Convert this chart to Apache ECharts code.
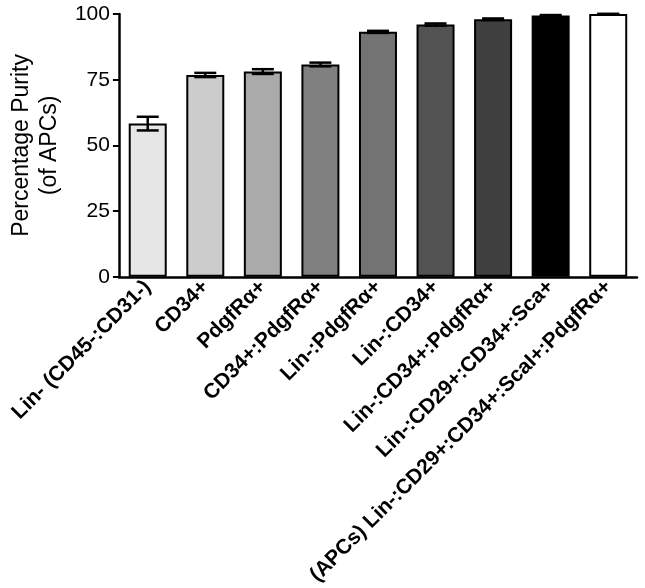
<!DOCTYPE html>
<html>
<head>
<meta charset="utf-8">
<script src="https://cdn.jsdelivr.net/npm/echarts@6/dist/echarts.min.js"></script>
<style>html,body{margin:0;padding:0;background:#fff}#c{width:645px;height:588px}</style>
</head>
<body>
<div id="c"></div>
<script>
var categories = ['Lin- (CD45-:CD31-)', 'CD34+', 'PdgfRα+', 'CD34+:PdgfRα+', 'Lin-:PdgfRα+', 'Lin-:CD34+', 'Lin-:CD34+:PdgfRα+', 'Lin-:CD29+:CD34+:Sca+', '(APCs) Lin-:CD29+:CD34+:ScaI+:PdgfRα+'];
var purity = [58.3, 76.8, 78.1, 80.8, 93.2, 96.0, 98.0, 99.4, 100];
var sem = [2.6, 0.8, 0.9, 0.7, 0.4, 0.4, 0.3, 0.2, 0];
var barColors = ['#e6e6e6', '#cccccc', '#aaaaaa', '#808080', '#737373', '#525252', '#404040', '#000000', '#ffffff'];
var yTicks = [0, 25, 50, 75, 100];

var font = 'Arial, "Liberation Sans", sans-serif';
var chart = echarts.init(document.getElementById('c'));
chart.setOption({
  animation: false,
  backgroundColor: '#fff',
  grid: {left: 112, right: 8, top: 14, bottom: 308},
  xAxis: {
    type: 'category',
    data: categories,
    axisLine: {lineStyle: {color: '#000', width: 2.5}},
    axisTick: {show: false},
    axisLabel: {rotate: 45, interval: 0, fontFamily: font, fontWeight: 'bold', fontSize: 21, color: '#000', margin: 7}
  },
  yAxis: {
    type: 'value',
    min: yTicks[0], max: yTicks[yTicks.length - 1], interval: 25,
    name: 'Percentage Purity\n(of APCs)',
    nameLocation: 'middle',
    nameRotate: 90,
    nameGap: 50,
    nameTextStyle: {fontFamily: font, fontSize: 23, color: '#000', lineHeight: 28},
    axisLine: {show: true, lineStyle: {color: '#000', width: 2.5}},
    axisTick: {show: true, length: 6, lineStyle: {color: '#000', width: 2}},
    axisLabel: {fontFamily: font, fontSize: 21, color: '#000', margin: 9},
    splitLine: {show: false}
  },
  series: [{
    type: 'bar',
    barWidth: 38,
    data: purity.map(function (v, i) {
      return {value: v, itemStyle: {color: barColors[i], borderColor: '#000', borderWidth: 2}};
    })
  }, {
    type: 'custom',
    data: purity.map(function (v, i) { return [i, v - sem[i], v + sem[i]]; }),
    renderItem: function (params, api) {
      var x = api.value(0);
      var lo = api.coord([x, api.value(1)]);
      var hi = api.coord([x, api.value(2)]);
      var hw = 11;
      var st = {stroke: '#000', lineWidth: 2.5};
      return {
        type: 'group',
        children: [
          {type: 'line', shape: {x1: hi[0], y1: hi[1], x2: lo[0], y2: lo[1]}, style: st},
          {type: 'line', shape: {x1: hi[0] - hw, y1: hi[1], x2: hi[0] + hw, y2: hi[1]}, style: st},
          {type: 'line', shape: {x1: lo[0] - hw, y1: lo[1], x2: lo[0] + hw, y2: lo[1]}, style: st}
        ]
      };
    },
    z: 5
  }]
});
</script>
</body>
</html>
